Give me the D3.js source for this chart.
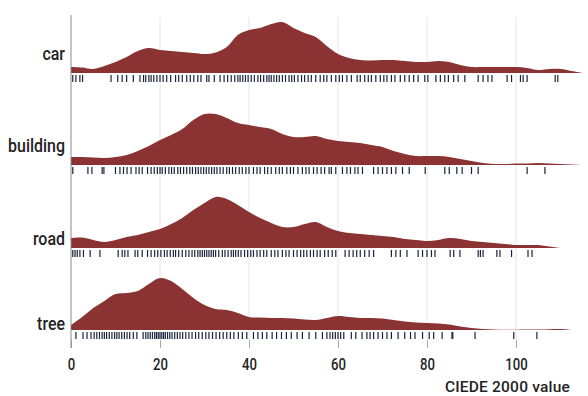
<!DOCTYPE html>
<html><head><meta charset="utf-8">
<script src="https://cdn.jsdelivr.net/npm/d3@7"></script>
<style>body{margin:0;background:#fff}</style>
</head><body><svg id="chart" width="588" height="396"></svg>
<script>
const categories = ["car", "building", "road", "tree"];
const xGrid = [0,2.5,5,7.5,10,12.5,15,17.5,20,22.5,25,27.5,30,32.5,35,37.5,40,42.5,45,47.5,50,52.5,55,57.5,60,62.5,65,67.5,70,72.5,75,77.5,80,82.5,85,87.5,90,92.5,95,97.5,100,102.5,105,107.5,110,112.5,115];
const densityCar = [6,5.5,4,7,11,16,22,25,23,22,21,20,19,20.5,26,38,43,45,49,51,45,40,36,27,19,15,13,12.5,13,13,12,11,11,12,11,8,6,6,6,6,6,5,3,4,4,2,0];
const densityBuilding = [8,8,7.5,7,8,10,14,19,25,30,36,45,51,51,47,42,40,38,36,31,28,28,29,26,24,23,22,20,18,14,11,9,9,9,8,6,4,2,1,1,1.5,1.5,2,1.5,1,0.5,0];
const densityRoad = [10,10.5,8,6,8,11,13,16,19,24,30,38,45,51,49,43,36,30,25,21,21,24,26,21,17,15,14,13,12,11,9,8,7,8,10,9,7,6,5,4,3,3,3,1.5,0,null,null];
const densityTree = [5,13,22,29,36,37,39,46,52,49,41,32,25,21,20,17,13,12.5,12,12,11.5,10.5,10,12,14,13,12,12,11.5,10,8.5,7.5,7,6.5,5.5,3.5,2,1,0.5,0.3,0.3,0.5,0.5,0.8,1,0,null];
const rugCar = [0.4,1.1,2,2.6,9,10.5,11.5,12.5,14,15.5,16.3,16.8,17.5,18,18.6,19.3,20,20.7,21.5,22.4,23.5,24.2,25,26,26.8,27.6,28.5,29.2,30.5,31,32.2,33.5,34.4,35.2,36,36.8,37.5,38,38.6,39.2,39.8,40.5,41.2,42,42.6,43.3,44,44.5,45,45.6,46.2,46.8,47.5,48.2,49,49.6,50.2,51,51.8,52.5,53.3,54,55,56,56.8,57.5,58.5,59.5,60.3,61,62,63,64.3,65,66,66.8,67.5,68.5,69.5,70.3,71,72,72.8,74,75,76,77,78,79.5,80.2,82,83,84,84.8,86,87,88.5,91.5,92.6,93.7,94.6,98,99,101,101.6,102.5,108.8,109.4];
const rugBuilding = [0.4,3.8,4.7,7,7.4,10,11,11.8,12.6,13.5,14.6,15.3,16,17.2,18,18.7,19.4,20,20.5,21.2,22,22.6,23.2,24,24.6,25.3,26,26.7,27.3,28,28.6,29.2,29.8,30.4,31,31.6,32.2,32.8,33.5,34.2,35,35.6,36.3,37,37.8,38.5,39.3,40,41,41.8,42.5,43.5,44.2,45,46,46.8,47.5,48.5,49.3,50,51,52,52.8,53.5,54.5,55.3,56.2,57,58,58.5,59.5,61,62,62.8,63.8,64.5,65.5,68,69,70,71,72,73,74.5,76,79.6,84,85,86.7,87.9,90,91.5,102.5,106.5];
const rugRoad = [0.4,0.9,1.4,2,2.8,4.3,6.5,10.6,11.5,12.1,12.8,14.4,15,16,17.2,18,18.8,19.5,20.2,21,21.6,22.3,23,23.5,24.2,25,25.8,26.5,27.2,27.8,28.5,29,29.5,30,30.5,31,31.5,32,32.5,33.2,34,34.6,35.3,36,36.5,37,37.6,38.2,39,39.7,40.4,41,41.8,42.5,43.3,44,45,45.8,46.5,47.5,48.3,49,50,50.8,51.6,52.3,53,53.8,54.5,55.3,56,57,57.8,58.7,59.5,61.6,62.5,63.4,64.2,65,66,67,68,72,73,74,75.5,78,79,80,81,81.8,85.2,86,87.4,91.5,92,92.6,95.7,96.4,99,102.7,103.6];
const rugTree = [1.1,2.7,3.6,4.5,5.2,5.8,6.4,7,7.5,8,8.6,9.2,9.8,10.3,10.8,11.4,12,12.6,13.2,14,14.8,16.2,16.8,17.3,17.8,18.3,18.8,19.2,19.6,20,20.4,20.8,21.2,21.7,22.2,22.7,23.3,23.9,24.5,25.1,25.8,26.5,27.2,28,28.7,29.5,30.3,31,31.8,32.6,33.4,34.2,35,35.8,36.6,37.6,38.5,39.5,41,42,43,44,45.2,46.2,47.3,48.4,49.5,50.8,52,53.5,55,56.5,57.5,58.2,58.8,59.4,60,60.6,61.3,63,64,65.4,66.5,67.2,68,69,70,71,72,73.5,75,76.3,77.3,79,80.5,81.5,83.4,85.6,85.8,90.8,99.5,104.7];
const xTicks = [0, 20, 40, 60, 80, 100];
const xLabel = "CIEDE 2000 value";

const series = [
  {name: "car", density: densityCar, rug: rugCar},
  {name: "building", density: densityBuilding, rug: rugBuilding},
  {name: "road", density: densityRoad, rug: rugRoad},
  {name: "tree", density: densityTree, rug: rugTree}
];

const FONT = "Roboto, 'DejaVu Sans', sans-serif";
const SQUEEZE = 0.84;
const svg = d3.select("#chart");
const x = d3.scaleLinear().domain([0, 100]).range([71, 516]);
const h = d3.scaleLinear().domain([0, 52]).range([0, 52]);
const baseY = d3.scaleOrdinal().domain(categories).range([73, 165, 248, 330]);
const labelY = d3.scaleOrdinal().domain(categories).range([53, 145, 238, 323]);
const gridTop = 17, gridBottom = 340;

// grid
svg.append("g").selectAll("line").data(xTicks.filter(d => d > 0)).join("line")
  .attr("x1", d => x(d)).attr("x2", d => x(d))
  .attr("y1", gridTop).attr("y2", gridBottom)
  .attr("stroke", "#e6e6e6").attr("stroke-width", 1);

// axis ticks / labels
const axis = d3.axisBottom(x).tickValues(xTicks).tickSize(8).tickPadding(11).tickFormat(d3.format("d"));
const ax = svg.append("g").attr("transform", `translate(0,${gridBottom})`).call(axis);
ax.select(".domain").remove();
ax.selectAll(".tick line").attr("stroke", "#aaa");
ax.selectAll(".tick text").attr("font-family", FONT).attr("font-size", 16).attr("font-weight", 500)
  .attr("fill", "#222").attr("transform", "scale(0.82,1)");

svg.append("text").attr("x", 570).attr("y", 392).attr("text-anchor", "end")
  .attr("font-family", FONT).attr("font-size", 15.5).attr("font-weight", 500)
  .attr("letter-spacing", 0.2).attr("fill", "#222").text(xLabel);

// rows
series.forEach(s => {
  const b = baseY(s.name);
  const pts = xGrid.map((xv, i) => ({x: xv, d: s.density[i]}));
  const area = d3.area()
    .defined(p => p.d !== null)
    .x(p => x(p.x)).y0(b).y1(p => Math.min(b, b - h(p.d)))
    .curve(d3.curveCatmullRom.alpha(0.5));
  svg.append("path").datum(pts).attr("d", area).attr("fill", "#8b3333");
  svg.append("g").selectAll("line").data(s.rug).join("line")
    .attr("x1", d => x(d)).attr("x2", d => x(d))
    .attr("y1", b + 2).attr("y2", b + 9)
    .attr("stroke", "#18233a").attr("stroke-width", 1.2);
  svg.append("text").attr("transform", `translate(65,${labelY(s.name)}) scale(${SQUEEZE},1)`).attr("dy", "0.35em")
    .attr("text-anchor", "end").attr("font-family", FONT).attr("font-size", 19).attr("font-weight", 500)
    .attr("fill", "#222").text(s.name);
});

// left axis line
svg.append("line").attr("x1", 71).attr("x2", 71).attr("y1", 15).attr("y2", 348)
  .attr("stroke", "#888").attr("stroke-width", 1);
</script></body></html>
